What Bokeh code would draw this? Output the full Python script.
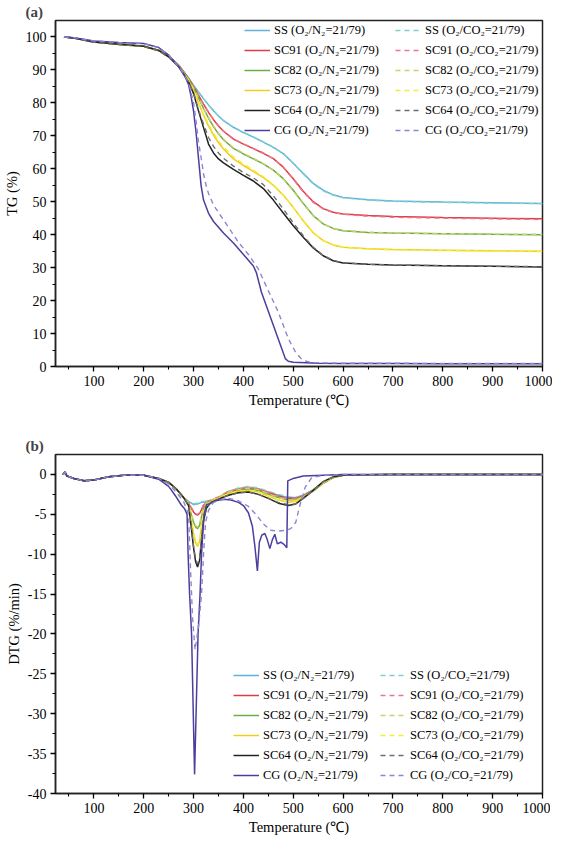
from bokeh.plotting import figure
from bokeh.models import Legend, LegendItem, FixedTicker, Range1d, Title
from bokeh.layouts import column
from bokeh.embed import file_html
from bokeh.resources import INLINE
from bokeh.core.properties import value

FONT = "Liberation Serif"

# ---------------- data: TG (%) ----------------
T_TG = [40, 60, 100, 150, 200, 230, 250, 270, 290, 300, 310, 320, 330, 340, 350, 360, 380, 400,
        420, 440, 460, 480, 500, 520, 540, 560, 580, 600, 650, 700, 800, 900, 1000]
SS_N2 = [100, 99.7, 98.6, 97.9, 97.3, 96.0, 94.2, 91.5, 87.6, 85.3, 83.3, 81.3, 79.4, 77.6, 76.0, 74.6, 72.6, 71.0,
         69.6, 68.1, 66.5, 64.6, 61.7, 58.6, 55.6, 53.5, 52.1, 51.3, 50.6, 50.2, 49.9, 49.7, 49.5]
SS_CO2 = [100, 99.7, 98.5, 97.7, 97.1, 95.8, 94.0, 91.3, 87.5, 85.2, 83.2, 81.2, 79.3, 77.6, 76.0, 74.6, 72.7, 71.1,
          69.7, 68.2, 66.6, 64.6, 61.6, 58.4, 55.4, 53.3, 52.0, 51.2, 50.5, 50.1, 49.8, 49.6, 49.4]
SC91_N2 = [100, 99.7, 98.5, 97.8, 97.2, 95.9, 94.1, 91.4, 87.4, 84.9, 82.3, 79.6, 77.1, 74.9, 73.0, 71.4, 69.0, 67.5,
           66.1, 64.7, 63.1, 60.5, 57.0, 53.2, 50.0, 47.9, 46.8, 46.3, 45.8, 45.5, 45.2, 45.0, 44.8]
SC91_CO2 = [100, 99.7, 98.4, 97.7, 97.1, 95.8, 94.0, 91.3, 87.3, 84.8, 82.2, 79.6, 77.2, 75.0, 73.1, 71.5, 69.1, 67.6,
            66.2, 64.8, 63.1, 60.4, 56.8, 53.0, 49.8, 47.8, 46.7, 46.2, 45.6, 45.3, 45.0, 44.8, 44.6]
SC82_N2 = [100, 99.7, 98.5, 97.8, 97.2, 95.9, 94.0, 91.3, 87.2, 84.5, 81.5, 78.3, 75.4, 72.8, 70.6, 68.8, 66.2, 64.5,
           63.0, 61.5, 59.6, 57.0, 53.5, 49.5, 45.8, 43.3, 41.9, 41.2, 40.7, 40.5, 40.3, 40.1, 40.0]
SC82_CO2 = [100, 99.7, 98.4, 97.7, 97.1, 95.8, 93.9, 91.2, 87.1, 84.4, 81.5, 78.4, 75.6, 73.0, 70.8, 69.0, 66.4, 64.7,
            63.2, 61.6, 59.6, 56.9, 53.3, 49.3, 45.7, 43.3, 41.9, 41.3, 40.8, 40.5, 40.3, 40.2, 40.1]
SC73_N2 = [100, 99.7, 98.5, 97.8, 97.2, 95.9, 94.0, 91.2, 86.9, 83.9, 80.0, 76.3, 73.0, 70.2, 67.9, 66.0, 63.0, 61.0,
           59.2, 57.3, 55.0, 52.0, 48.3, 44.2, 40.6, 38.2, 36.9, 36.2, 35.7, 35.5, 35.3, 35.1, 35.0]
SC73_CO2 = [100, 99.7, 98.4, 97.7, 97.1, 95.8, 93.9, 91.1, 86.8, 83.8, 80.1, 76.6, 73.5, 70.8, 68.5, 66.6, 63.6, 61.5,
            59.6, 57.6, 55.2, 52.1, 48.3, 44.2, 40.6, 38.2, 36.9, 36.2, 35.7, 35.4, 35.2, 35.0, 34.9]
SC64_N2 = [100, 99.7, 98.5, 97.8, 97.2, 95.9, 94.0, 91.0, 86.3, 82.8, 77.5, 72.5, 67.5, 64.8, 63.0, 61.8, 59.8, 58.0,
           56.3, 54.0, 50.5, 46.6, 42.7, 39.2, 36.0, 33.6, 32.1, 31.4, 31.0, 30.8, 30.6, 30.4, 30.2]
SC64_CO2 = [100, 99.7, 98.4, 97.7, 97.1, 95.8, 93.9, 91.0, 86.4, 83.0, 78.0, 73.5, 69.5, 66.8, 64.8, 63.2, 60.8, 58.9,
            57.2, 55.2, 51.8, 47.8, 43.6, 39.7, 36.2, 33.7, 32.2, 31.5, 31.0, 30.8, 30.6, 30.4, 30.3]
T_CG_N2 = [40, 60, 100, 150, 200, 230, 250, 270, 280, 290, 295, 300, 305, 310, 315, 320, 330, 340, 360, 380,
           400, 420, 426, 436, 460, 484, 490, 500, 550, 600, 700, 800, 900, 1000]
CG_N2 = [100, 99.8, 98.8, 98.3, 98.0, 96.8, 94.5, 91.0, 89.0, 85.5, 82.0, 77.5, 71.0, 63.0, 55.0, 50.5, 46.5, 44.0, 40.5, 37.5,
         34.0, 30.5, 28.5, 22.6, 12.5, 2.4, 1.6, 1.3, 1.0, 0.9, 0.9, 0.8, 0.8, 0.8]
T_CG_CO2 = [40, 60, 100, 150, 200, 230, 250, 270, 280, 290, 300, 305, 310, 315, 320, 325, 330, 340, 360, 390,
            410, 430, 450, 470, 490, 504, 515, 524, 537, 560, 600, 700, 800, 900, 1000]
CG_CO2 = [100, 99.8, 98.8, 98.3, 98.0, 96.8, 94.5, 91.0, 89.0, 86.0, 80.0, 74.5, 68.0, 63.5, 58.5, 55.0, 52.5, 49.0, 44.5, 37.7,
          34.0, 29.6, 23.0, 16.5, 8.5, 4.5, 2.5, 1.7, 1.2, 1.1, 1.0, 1.0, 0.9, 0.9, 0.9]

# ---------------- data: DTG (%/min) ----------------
T_DTG = [38, 42, 46, 60, 80, 100, 130, 160, 200, 230, 250, 265, 280, 290, 296, 300, 304, 308, 312, 316,
         320, 326, 335, 350, 370, 390, 410, 430, 450, 470, 490, 505, 520, 540, 560, 580, 600, 650, 700, 800, 900, 1000]
SS_N2_D = [0.0, 0.3, -0.2, -0.5, -0.8, -0.7, -0.3, -0.1, -0.1, -0.5, -1.0, -1.8, -2.9, -3.4, -3.6, -3.8, -3.7, -3.7, -3.6, -3.5,
           -3.5, -3.4, -3.3, -3.0, -2.2, -1.8, -1.6, -1.8, -2.2, -2.6, -2.9, -2.9, -2.6, -1.9, -1.0, -0.4, -0.1, -0.05, 0.0, 0.0, 0.0, 0.0]
SS_CO2_D = [0.0, 0.3, -0.2, -0.5, -0.8, -0.7, -0.3, -0.1, -0.1, -0.5, -1.0, -1.8, -2.9, -3.4, -3.6, -3.7, -3.6, -3.6, -3.5, -3.4,
            -3.4, -3.3, -3.2, -2.9, -2.1, -1.7, -1.5, -1.7, -2.1, -2.5, -2.8, -2.9, -2.6, -1.9, -1.0, -0.4, -0.1, -0.05, 0.0, 0.0, 0.0, 0.0]
SC91_N2_D = [0.0, 0.3, -0.2, -0.5, -0.8, -0.7, -0.3, -0.1, -0.1, -0.5, -1.0, -1.8, -2.9, -3.6, -4.3, -4.7, -5.0, -5.1, -4.9, -4.4,
             -3.9, -3.5, -3.3, -2.9, -2.2, -1.9, -1.7, -1.9, -2.3, -2.7, -3.0, -3.0, -2.7, -2.0, -1.1, -0.4, -0.1, -0.05, 0.0, 0.0, 0.0, 0.0]
SC91_CO2_D = [0.0, 0.3, -0.2, -0.5, -0.8, -0.7, -0.3, -0.1, -0.1, -0.5, -1.0, -1.8, -2.9, -3.6, -4.2, -4.6, -4.9, -5.0, -4.8, -4.3,
              -3.8, -3.4, -3.2, -2.8, -2.1, -1.8, -1.6, -1.8, -2.2, -2.7, -3.0, -3.0, -2.7, -2.0, -1.1, -0.4, -0.1, -0.05, 0.0, 0.0, 0.0, 0.0]
SC82_N2_D = [0.0, 0.3, -0.2, -0.5, -0.8, -0.7, -0.3, -0.1, -0.1, -0.5, -1.0, -1.8, -2.9, -3.7, -5.2, -6.0, -6.6, -6.8, -6.4, -5.3,
             -4.3, -3.6, -3.3, -3.0, -2.3, -2.0, -1.8, -2.0, -2.5, -2.9, -3.2, -3.2, -2.8, -2.1, -1.1, -0.4, -0.1, -0.05, 0.0, 0.0, 0.0, 0.0]
SC82_CO2_D = [0.0, 0.3, -0.2, -0.5, -0.8, -0.7, -0.3, -0.1, -0.1, -0.5, -1.0, -1.8, -2.9, -3.7, -5.0, -5.8, -6.4, -6.6, -6.2, -5.1,
              -4.2, -3.5, -3.2, -2.9, -2.2, -1.9, -1.7, -1.9, -2.4, -2.9, -3.2, -3.2, -2.8, -2.1, -1.1, -0.4, -0.1, -0.05, 0.0, 0.0, 0.0, 0.0]
SC73_N2_D = [0.0, 0.3, -0.2, -0.5, -0.8, -0.7, -0.3, -0.1, -0.1, -0.5, -1.0, -1.8, -2.9, -3.8, -6.0, -7.5, -8.6, -9.0, -8.4, -6.5,
             -4.9, -3.8, -3.4, -3.0, -2.4, -2.1, -2.0, -2.2, -2.7, -3.2, -3.5, -3.4, -2.9, -2.0, -1.0, -0.3, -0.1, -0.05, 0.0, 0.0, 0.0, 0.0]
SC73_CO2_D = [0.0, 0.3, -0.2, -0.5, -0.8, -0.7, -0.3, -0.1, -0.1, -0.5, -1.0, -1.8, -2.9, -3.8, -5.8, -7.3, -8.4, -8.8, -8.2, -6.4,
              -4.8, -3.8, -3.4, -3.0, -2.4, -2.1, -2.0, -2.2, -2.7, -3.2, -3.4, -3.3, -2.9, -2.0, -1.0, -0.3, -0.1, -0.05, 0.0, 0.0, 0.0, 0.0]
SC64_N2_D = [0.0, 0.3, -0.2, -0.5, -0.8, -0.7, -0.3, -0.1, -0.1, -0.5, -1.0, -1.8, -2.9, -3.9, -7.0, -9.2, -10.9, -11.6, -10.8, -8.2,
             -5.8, -4.2, -3.5, -3.1, -2.6, -2.3, -2.2, -2.5, -3.0, -3.6, -3.9, -3.7, -3.0, -2.0, -0.9, -0.3, -0.1, -0.05, 0.0, 0.0, 0.0, 0.0]
SC64_CO2_D = [0.0, 0.3, -0.2, -0.5, -0.8, -0.7, -0.3, -0.1, -0.1, -0.5, -1.0, -1.8, -2.9, -3.9, -6.8, -9.0, -10.6, -11.2, -10.5, -8.0,
              -5.7, -4.1, -3.5, -3.1, -2.6, -2.3, -2.2, -2.5, -3.0, -3.5, -3.8, -3.7, -3.0, -2.0, -0.9, -0.3, -0.1, -0.05, 0.0, 0.0, 0.0, 0.0]
T_CG_N2_D = [38, 42, 46, 60, 80, 100, 130, 160, 200, 230, 250, 265, 275, 282, 287, 289, 292, 296, 302, 309,
             313, 316, 321, 326, 335, 345, 360, 375, 390, 400, 410, 418, 423, 428, 432, 437, 443, 448, 453, 458,
             463, 468, 475, 482, 487, 489, 500, 520, 560, 600, 700, 800, 900, 1000]
CG_N2_D = [0.0, 0.3, -0.2, -0.5, -0.8, -0.7, -0.3, -0.1, -0.1, -0.6, -1.5, -2.8, -3.8, -4.3, -5.0, -10.0, -15.0, -20.0, -37.6, -20.0,
           -15.0, -10.0, -5.0, -3.8, -3.6, -3.3, -3.1, -3.2, -3.5, -3.9, -4.8, -6.5, -9.0, -12.1, -8.5, -7.6, -7.4, -8.2, -9.3, -8.2,
           -7.5, -8.7, -8.5, -8.8, -9.2, -0.8, -0.5, -0.2, -0.1, 0.0, 0.0, 0.0, 0.0, 0.0]
T_CG_CO2_D = [38, 42, 46, 60, 80, 100, 130, 160, 200, 230, 250, 265, 280, 290, 294, 298, 303, 310, 316, 320,
              324, 330, 340, 355, 370, 390, 410, 425, 440, 455, 470, 485, 495, 505, 514, 524, 537, 560, 600, 700,
              800, 900, 1000]
CG_CO2_D = [0.0, 0.3, -0.2, -0.5, -0.8, -0.7, -0.3, -0.1, -0.1, -0.5, -1.2, -2.2, -3.4, -5.0, -12.0, -18.0, -22.0, -19.0, -15.0, -10.0,
            -6.0, -4.5, -3.5, -3.2, -3.0, -3.3, -4.0, -5.0, -6.2, -7.0, -7.1, -7.0, -6.8, -6.0, -3.7, -1.6, -0.4, -0.1, 0.0, 0.0,
            0.0, 0.0, 0.0]

NAMES = ["SS", "SC91", "SC82", "SC73", "SC64", "CG"]
COLORS_N2 = ["#5eb3dc", "#e23a42", "#6cae45", "#f1cc1f", "#222222", "#4a3f9c"]
COLORS_CO2 = ["#7fd0cc", "#e8788f", "#c8d36a", "#f0f030", "#6e6e6e", "#8c86d0"]

X_TICKS = [100, 200, 300, 400, 500, 600, 700, 800, 900, 1000]
X_MINOR = [50, 150, 250, 350, 450, 550, 650, 750, 850, 950]
TG_TICKS = [0, 10, 20, 30, 40, 50, 60, 70, 80, 90, 100]
TG_MINOR = [5, 15, 25, 35, 45, 55, 65, 75, 85, 95]
DTG_TICKS = [-40, -35, -30, -25, -20, -15, -10, -5, 0]
DTG_MINOR = [-37.5, -32.5, -27.5, -22.5, -17.5, -12.5, -7.5, -2.5]

TG_SERIES = [
    (T_TG, SS_N2, T_TG, SS_CO2),
    (T_TG, SC91_N2, T_TG, SC91_CO2),
    (T_TG, SC82_N2, T_TG, SC82_CO2),
    (T_TG, SC73_N2, T_TG, SC73_CO2),
    (T_TG, SC64_N2, T_TG, SC64_CO2),
    (T_CG_N2, CG_N2, T_CG_CO2, CG_CO2),
]
DTG_SERIES = [
    (T_DTG, SS_N2_D, T_DTG, SS_CO2_D),
    (T_DTG, SC91_N2_D, T_DTG, SC91_CO2_D),
    (T_DTG, SC82_N2_D, T_DTG, SC82_CO2_D),
    (T_DTG, SC73_N2_D, T_DTG, SC73_CO2_D),
    (T_DTG, SC64_N2_D, T_DTG, SC64_CO2_D),
    (T_CG_N2_D, CG_N2_D, T_CG_CO2_D, CG_CO2_D),
]
for s in TG_SERIES + DTG_SERIES:
    assert len(s[0]) == len(s[1]) and len(s[2]) == len(s[3]), (len(s[0]), len(s[1]), len(s[2]), len(s[3]))

LEG_ROW = 16
LEG_GAP = 4
LEG_H = 6 * LEG_ROW + 5 * LEG_GAP


def make_fig(frame_h, yr, yticks, yminor, ylabel, tag, b_top, b_bottom, series, leg_x1, leg_x2, leg_y,
             tick_labels=None):
    p = figure(frame_width=487, frame_height=frame_h, x_range=Range1d(23, 1000), y_range=Range1d(*yr),
               output_backend="svg", toolbar_location=None,
               min_border_left=50, min_border_right=10, min_border_top=b_top, min_border_bottom=b_bottom)
    p.grid.visible = False
    p.outline_line_color = "#222222"
    p.outline_line_width = 1.5
    p.background_fill_color = "white"
    p.border_fill_color = "white"

    p.add_layout(Title(text=tag, text_font=FONT, text_font_size="15px", text_font_style="bold",
                       align="left", offset=-30, standoff=2), "above")

    p.xaxis.ticker = FixedTicker(ticks=X_TICKS, minor_ticks=X_MINOR)
    p.yaxis.ticker = FixedTicker(ticks=yticks, minor_ticks=yminor)
    if tick_labels:
        p.yaxis.major_label_overrides = tick_labels
    for ax in (p.xaxis[0], p.yaxis[0]):
        ax.axis_line_width = 1.5
        ax.axis_line_color = "#222222"
        ax.major_tick_in = 0
        ax.major_tick_out = 5
        ax.minor_tick_in = 0
        ax.minor_tick_out = 3
        ax.major_tick_line_width = 1.3
        ax.minor_tick_line_width = 1.1
        ax.major_label_text_font = FONT
        ax.major_label_text_font_size = "14px"
        ax.major_label_text_color = "black"
        ax.axis_label_text_font = FONT
        ax.axis_label_text_font_size = "14.5px"
        ax.axis_label_text_font_style = "normal"
        ax.axis_label_text_color = "black"
    p.xaxis.axis_label = "Temperature (℃)"
    p.yaxis.axis_label = ylabel
    p.xaxis.major_label_standoff = 4
    p.xaxis.axis_label_standoff = 3
    p.yaxis.major_label_standoff = 4
    p.yaxis.axis_label_standoff = 3

    items1, items2 = [], []
    for name, (tx1, y1, tx2, y2), c1, c2 in zip(NAMES, series, COLORS_N2, COLORS_CO2):
        r1 = p.line(tx1, y1, line_color=c1, line_width=1.5)
        r2 = p.line(tx2, y2, line_color=c2, line_width=1.4, line_dash="5 4")
        items1.append(LegendItem(label=value(f"{name} (O₂/N₂=21/79)"), renderers=[r1]))
        items2.append(LegendItem(label=value(f"{name} (O₂/CO₂=21/79)"), renderers=[r2]))

    for items, lx in ((items1, leg_x1), (items2, leg_x2)):
        leg = Legend(items=items, location=(lx, leg_y), glyph_width=26, glyph_height=LEG_ROW,
                     label_height=LEG_ROW, label_standoff=4, spacing=LEG_GAP, padding=0, margin=0,
                     border_line_alpha=0, background_fill_alpha=0,
                     label_text_font=FONT, label_text_font_size="12.5px", label_text_color="black")
        p.add_layout(leg)
    return p


FRAME_A = 346
FRAME_B = 339
pa = make_fig(FRAME_A, (0, 105), TG_TICKS, TG_MINOR, "TG (%)", "(a)", 14, 50, TG_SERIES,
              189, 340, FRAME_A - 2 - LEG_H)
pb = make_fig(FRAME_B, (-40, 2.5), DTG_TICKS, DTG_MINOR, "DTG (%/min)", "(b)", 38, 44, DTG_SERIES,
              178, 325, 10, tick_labels={t: str(t) for t in DTG_TICKS})

layout = column(pa, pb, spacing=0)
open("out.html", "w").write(file_html(layout, INLINE))
